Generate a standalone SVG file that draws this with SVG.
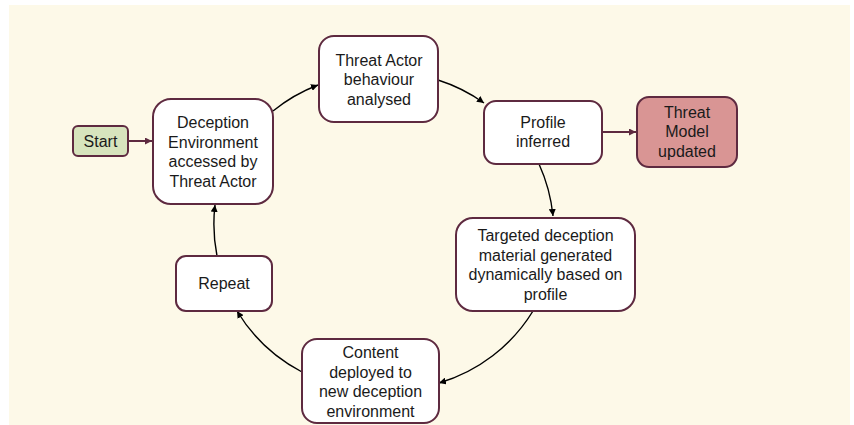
<svg xmlns="http://www.w3.org/2000/svg" width="854" height="425" viewBox="0 0 854 425">
<style>
  .node rect { fill: #ffffff; stroke: #5e2a40; stroke-width: 2; }
  .node text { font-family: "Liberation Sans", Arial, sans-serif; font-size: 16px; fill: #1a1a1a; text-anchor: middle; }
  .conn { fill: none; stroke: #000000; stroke-width: 1.4; marker-end: url(#arr); }
  .conn2 { fill: none; stroke: #5e2a40; stroke-width: 2; marker-end: url(#arr2); }
</style>
<defs>
  <marker id="arr" markerUnits="userSpaceOnUse" markerWidth="8" markerHeight="7" refX="7" refY="3.5" orient="auto">
    <path d="M0,0 L7,3.5 L0,7 Z" fill="#000000"/>
  </marker>
  <marker id="arr2" markerUnits="userSpaceOnUse" markerWidth="8" markerHeight="7" refX="7" refY="3.5" orient="auto">
    <path d="M0,0 L7,3.5 L0,7 Z" fill="#5e2a40"/>
  </marker>
</defs>
<rect x="9" y="5" width="841" height="420" fill="#fdf9e8"/>

<g id="connectors">
  <path class="conn2" d="M128,141 L152,141"/>
  <path class="conn" d="M273,111 A165,165 0 0 1 318,85"/>
  <path class="conn" d="M438,80 A165,165 0 0 1 484,103"/>
  <path class="conn2" d="M602,132 L636,132"/>
  <path class="conn" d="M539,164 A165,165 0 0 1 553,216"/>
  <path class="conn" d="M533,311 A165,165 0 0 1 439,383"/>
  <path class="conn" d="M302,372 A165,165 0 0 1 237,311"/>
  <path class="conn" d="M217,256 A165,165 0 0 1 215,205"/>
</g>

<g id="start" class="node">
  <rect x="73" y="126" width="55" height="30" rx="5" style="fill:#d7e4bd"/>
  <text x="100.5" y="146.5">Start</text>
</g>

<g id="deception-env" class="node">
  <rect x="153" y="99" width="120" height="105" rx="18"/>
  <text x="213" y="128">Deception</text>
  <text x="213" y="147.5">Environment</text>
  <text x="213" y="167">accessed by</text>
  <text x="213" y="186.5">Threat Actor</text>
</g>

<g id="behaviour" class="node">
  <rect x="319" y="36" width="119" height="86" rx="15"/>
  <text x="379" y="65.5">Threat Actor</text>
  <text x="379" y="85">behaviour</text>
  <text x="379" y="104.5">analysed</text>
</g>

<g id="profile" class="node">
  <rect x="484" y="101" width="118" height="63" rx="12"/>
  <text x="543" y="127.5">Profile</text>
  <text x="543" y="147">inferred</text>
</g>

<g id="threat-model" class="node">
  <rect x="637" y="97" width="100" height="70" rx="12" style="fill:#d99594"/>
  <text x="687" y="117.5">Threat</text>
  <text x="687" y="137">Model</text>
  <text x="687" y="156.5">updated</text>
</g>

<g id="targeted" class="node">
  <rect x="456" y="218" width="179" height="93" rx="17"/>
  <text x="545.5" y="241">Targeted deception</text>
  <text x="545.5" y="260.5">material generated</text>
  <text x="545.5" y="280">dynamically based on</text>
  <text x="545.5" y="299.5">profile</text>
</g>

<g id="content" class="node">
  <rect x="302" y="339" width="137" height="84" rx="15"/>
  <text x="370.5" y="358">Content</text>
  <text x="370.5" y="377.5">deployed to</text>
  <text x="370.5" y="397">new deception</text>
  <text x="370.5" y="416.5">environment</text>
</g>

<g id="repeat" class="node">
  <rect x="176" y="256" width="96" height="55" rx="10"/>
  <text x="224" y="288.5">Repeat</text>
</g>
</svg>
